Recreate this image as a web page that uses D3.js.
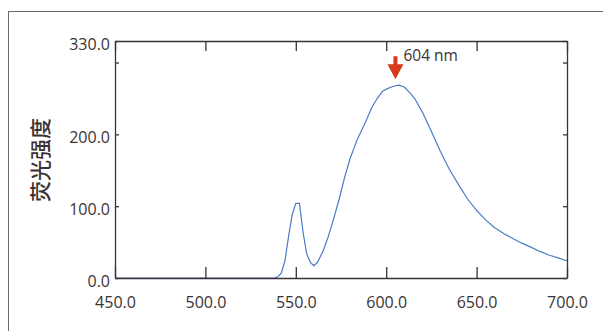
<!DOCTYPE html>
<html>
<head>
<meta charset="utf-8">
<script src="https://cdn.jsdelivr.net/npm/d3@7"></script>
<style>
  body { margin: 0; background: #fff; }
  svg { display: block; }
</style>
</head>
<body>
<svg id="chart" width="603" height="331"></svg>
<script>
// emission spectrum
const wavelengths = [450, 538, 540, 542, 544, 546, 548, 550, 552, 554, 556, 558, 560, 562, 565, 568, 571, 574, 577, 580, 584, 588, 592, 595, 598, 601, 604, 607, 610, 613, 616, 620, 625, 630, 635, 640, 645, 650, 655, 660, 665, 670, 675, 680, 685, 690, 695, 700];
const intensity = [0, 0, 1.5, 7, 24, 58, 88, 104, 104, 64, 34, 22, 17, 22, 37, 58, 83, 110, 140, 166, 193, 214, 237, 250, 260, 264, 267, 268.5, 266, 258, 249, 231, 204, 176, 151, 130, 110, 94, 81, 70, 62, 55, 48.5, 43, 37, 32, 28, 24];
const xTicks = [450, 500, 550, 600, 650, 700];
const yTicks = [0, 100, 200, 300, 330];
const yLabel = "荧光强度";
const peakWave = 604;
const peakLabel = "604 nm";

const axisColor = "#3b3333";
const font = "'Open Sans', sans-serif";

const svg = d3.select("#chart");
const margin = { top: 41, right: 36, bottom: 53, left: 115 };
const width = 603 - margin.left - margin.right;
const height = 331 - margin.top - margin.bottom;

// outer frame of the figure
svg.append("rect")
  .attr("x", 8.5).attr("y", 11.5)
  .attr("width", 620).attr("height", 340)
  .attr("fill", "none").attr("stroke", "#6b6b6b").attr("stroke-width", 1);

const g = svg.append("g").attr("transform", `translate(${margin.left},${margin.top})`);

const x = d3.scaleLinear().domain([450, 700]).range([0, width]);
const y = d3.scaleLinear().domain([0, 330]).range([height, 0]);

const data = wavelengths.map((w, i) => ({ w, v: intensity[i] }));

g.append("path")
  .datum(data)
  .attr("fill", "none")
  .attr("stroke", "#4a7cc6")
  .attr("stroke-width", 1.2)
  .attr("stroke-linejoin", "round")
  .attr("d", d3.line().x(d => x(d.w)).y(d => y(d.v)));

const fmt = d3.format(".1f");

const xAxis = g.append("g").attr("transform", `translate(0,${height})`)
  .call(d3.axisBottom(x).tickValues(xTicks).tickFormat(fmt).tickSize(-11).tickSizeOuter(0).tickPadding(19));
const xTop = g.append("g")
  .call(d3.axisTop(x).tickValues(xTicks).tickFormat("").tickSize(-10).tickSizeOuter(0));
const yAxis = g.append("g")
  .call(d3.axisLeft(y).tickValues(yTicks).tickFormat(d => d === 300 ? "" : fmt(d)).tickSize(-4).tickSizeOuter(0).tickPadding(5));
const yRight = g.append("g").attr("transform", `translate(${width},0)`)
  .call(d3.axisRight(y).tickValues(yTicks).tickFormat("").tickSize(-4).tickSizeOuter(0));

[xAxis, xTop, yAxis, yRight].forEach(a => {
  a.select(".domain").attr("stroke", axisColor).attr("stroke-width", 1.3);
  a.selectAll(".tick line").attr("stroke", axisColor).attr("stroke-width", 1.3);
  a.selectAll(".tick text")
    .attr("fill", axisColor)
    .style("font-family", font)
    .style("font-size", "16px");
});
yAxis.selectAll(".tick text").attr("dy", "0.5em");

// y axis title
svg.append("text")
  .attr("transform", "translate(48,160) rotate(-90)")
  .attr("text-anchor", "middle")
  .attr("fill", axisColor)
  .style("font-family", "'Noto Sans CJK SC', sans-serif")
  .style("font-size", "21px")
  .style("font-weight", 500)
  .text(yLabel);

// peak annotation
const ax = x(peakWave) + 2;
const tipY = y(d3.max(intensity)) - 6;
g.append("path")
  .attr("d", `M${ax - 2},${tipY - 23} L${ax + 2},${tipY - 23} L${ax + 2},${tipY - 15} L${ax + 8},${tipY - 15} L${ax},${tipY} L${ax - 8},${tipY - 15} L${ax - 2},${tipY - 15} Z`)
  .attr("fill", "#d8391d");

g.append("text")
  .attr("x", ax + 8)
  .attr("y", tipY - 18)
  .attr("fill", axisColor)
  .style("font-family", font)
  .style("font-size", "15.5px")
  .text(peakLabel);
</script>
</body>
</html>
